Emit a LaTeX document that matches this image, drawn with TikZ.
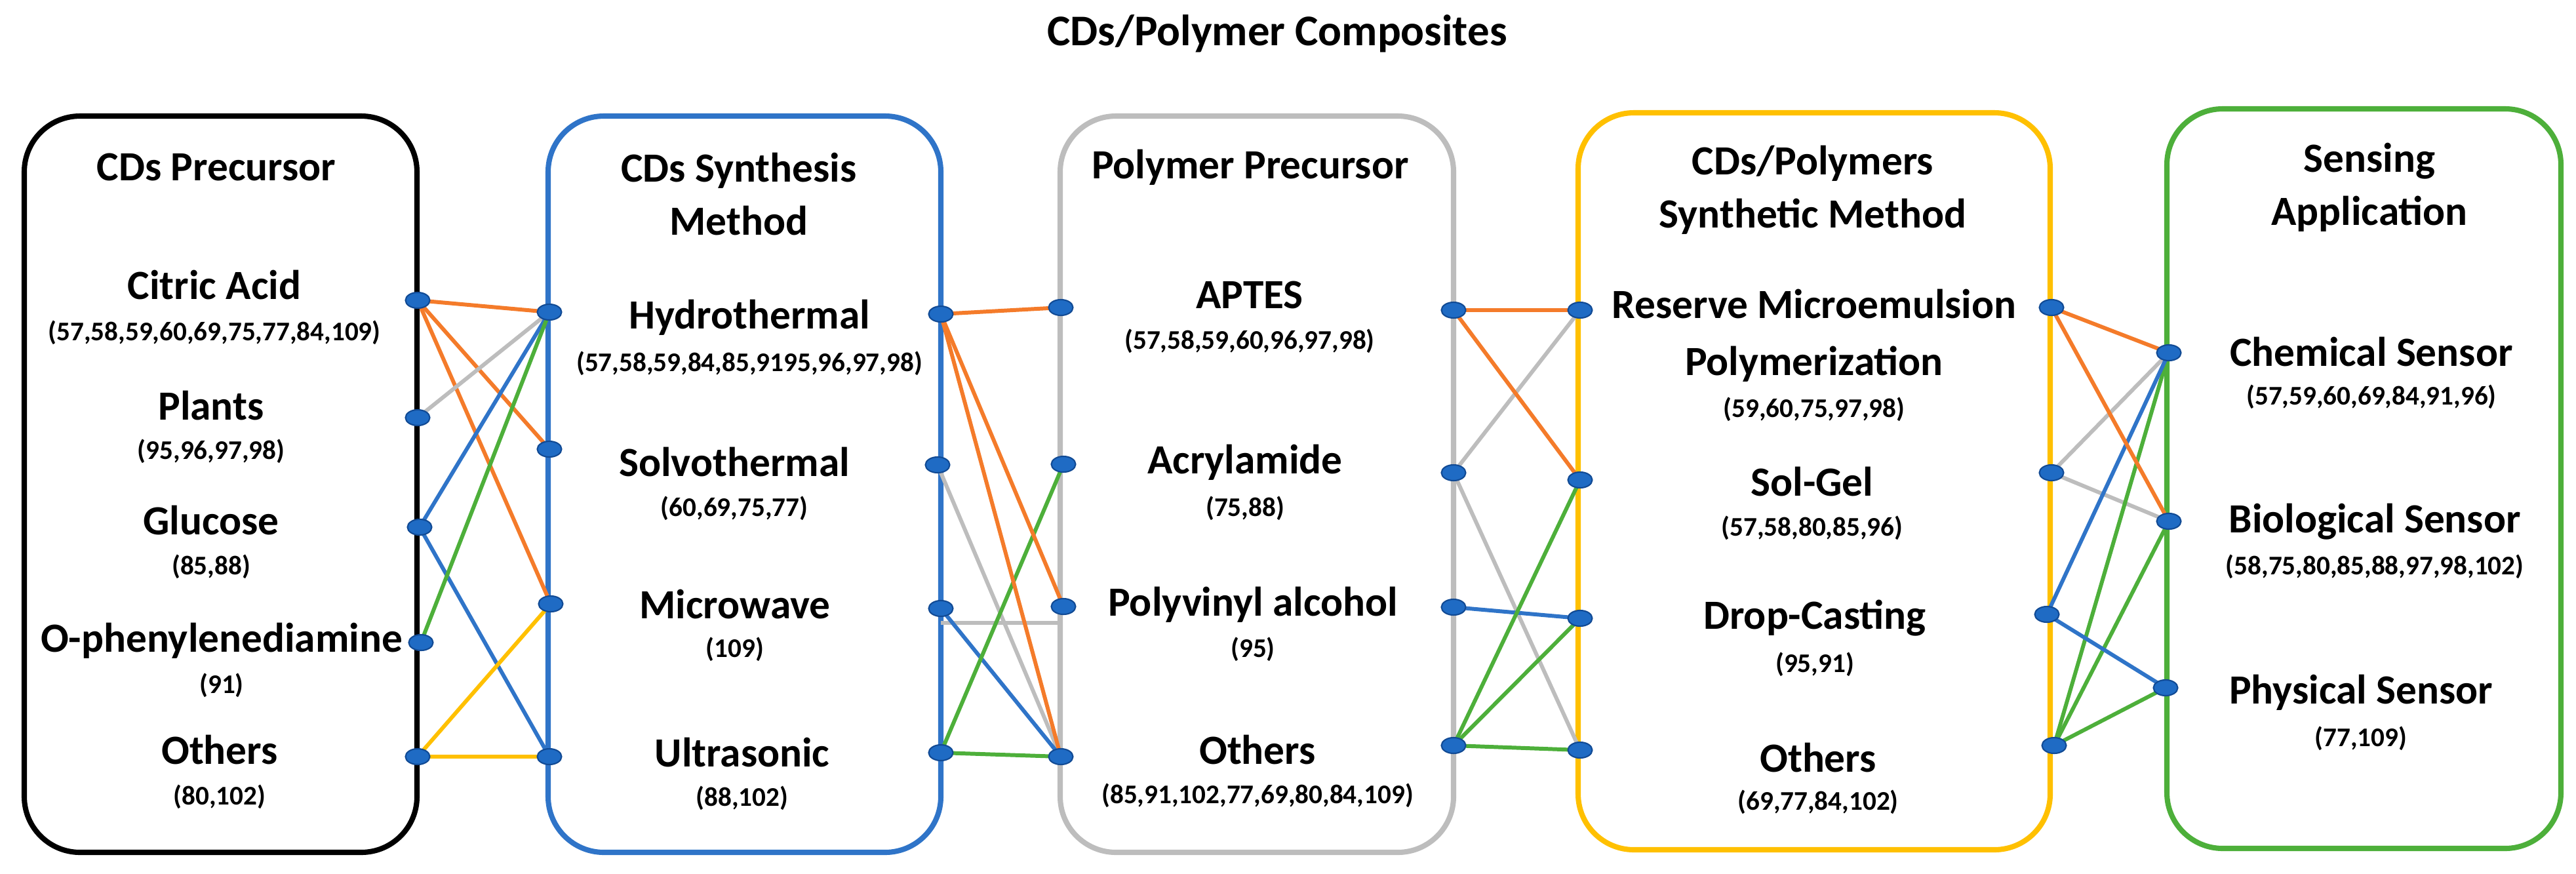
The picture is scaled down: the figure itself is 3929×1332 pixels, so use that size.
\documentclass[tikz,border=0pt]{standalone}
\usepackage{fontspec}
\setmainfont{Carlito}
\usetikzlibrary{shapes.geometric}
\definecolor{cor}{HTML}{F47B2A}
\definecolor{cgr}{HTML}{BDBDBD}
\definecolor{cbl}{HTML}{2F74C8}
\definecolor{cgn}{HTML}{4DAF3A}
\definecolor{cye}{HTML}{FFC000}
\definecolor{dotf}{HTML}{1F6BC4}
\definecolor{dotd}{HTML}{114A94}
\tikzset{
 box/.style={line width=2.3pt, rounded corners=0.85cm},
 dot/.style={ellipse, fill=dotf, draw=dotd, line width=0.6pt, minimum width=0.37cm, minimum height=0.24cm, inner sep=0pt},
 ln/.style={line width=1.7pt},
 hd/.style={font=\fontsize{18}{23}\selectfont\bfseries, align=center},
 it/.style={font=\fontsize{18}{24.7}\selectfont\bfseries, align=center},
 rf/.style={font=\fontsize{11.7}{14}\selectfont\bfseries},
}
\begin{document}
\begin{tikzpicture}[x=0.01cm,y=-0.01cm]
\useasboundingbox (0,0) rectangle (3929,1332);
\node[font=\fontsize{19}{22}\selectfont\bfseries] (title) at (1948,51) {CDs/Polymer Composites};
% boxes
\draw[box,black] (37,177) rectangle (636,1300);
\draw[box,cbl] (836,177) rectangle (1435,1300);
\draw[box,cgr] (1617,177) rectangle (2217,1300);
\draw[box,cye] (2407,172) rectangle (3127,1296);
\draw[box,cgn] (3305,166) rectangle (3906,1294);
% headers
\node[hd] (h1) at (330,255) {CDs Precursor};
\node[hd] (h2) at (1127,296) {CDs Synthesis\\Method};
\node[hd] (h3) at (1907,255) {Polymer Precursor};
\node[hd] (h4) at (2765,290) {CDs/Polymers\\Synthetic Method};
\node[hd] (h5) at (3614,286) {Sensing\\Application};
% box1 items
\node[it] (t11) at (327,435) {Citric Acid}; \node[rf] (r11) at (327,507) {(57,58,59,60,69,75,77,84,109)};
\node[it] (t12) at (322,619) {Plants}; \node[rf] (r12) at (322,688) {(95,96,97,98)};
\node[it] (t13) at (322,794) {Glucose}; \node[rf] (r13) at (322,864) {(85,88)};
\node[it] (t14) at (338,977) {O-phenylenediamine}; \node[rf] (r14) at (338,1045) {(91)};
\node[it] (t15) at (335,1143) {Others}; \node[rf] (r15) at (335,1215) {(80,102)};
% box2
\node[it] (t21) at (1143,484) {Hydrothermal}; \node[rf] (r21) at (1143,554) {(57,58,59,84,85,9195,96,97,98)};
\node[it] (t22) at (1120,705) {Solvothermal}; \node[rf] (r22) at (1120,775) {(60,69,75,77)};
\node[it] (t23) at (1121,922) {Microwave}; \node[rf] (r23) at (1121,990) {(109)};
\node[it] (t24) at (1132,1147) {Ultrasonic}; \node[rf] (r24) at (1132,1217) {(88,102)};
% box3
\node[it] (t31) at (1906,450) {APTES}; \node[rf] (r31) at (1906,520) {(57,58,59,60,96,97,98)};
\node[it] (t32) at (1899,705) {Acrylamide}; \node[rf] (r32) at (1899,775) {(75,88)};
\node[it] (t33) at (1911,922) {Polyvinyl alcohol}; \node[rf] (r33) at (1911,990) {(95)};
\node[it] (t34) at (1918,1143) {Others}; \node[rf] (r34) at (1918,1213) {(85,91,102,77,69,80,84,109)};
% box4
\node[it] (t41) at (2767,512) {Reserve Microemulsion\\Polymerization}; \node[rf] (r41) at (2767,624) {(59,60,75,97,98)};
\node[it] (t42) at (2764,735) {Sol-Gel}; \node[rf] (r42) at (2764,805) {(57,58,80,85,96)};
\node[it] (t43) at (2768,943) {Drop-Casting}; \node[rf] (r43) at (2768,1013) {(95,91)};
\node[it] (t44) at (2773,1155) {Others}; \node[rf] (r44) at (2773,1223) {(69,77,84,102)};
% box5
\node[it] (t51) at (3617,537) {Chemical Sensor}; \node[rf] (r51) at (3617,605) {(57,59,60,69,84,91,96)};
\node[it] (t52) at (3622,796) {Biological Sensor}; \node[rf] (r52) at (3622,864) {(58,75,80,85,88,97,98,102)};
\node[it] (t53) at (3601,1056) {Physical Sensor}; \node[rf] (r53) at (3601,1126) {(77,109)};
% dot coordinates
\coordinate (A1) at (637,458); \coordinate (A2) at (637,637); \coordinate (A3) at (640,804); \coordinate (A4) at (642,980); \coordinate (A5) at (637,1154);
\coordinate (B1) at (838,476); \coordinate (B2) at (838,685); \coordinate (B3) at (840,921); \coordinate (B4) at (838,1154);
\coordinate (C1) at (1435,479); \coordinate (C2) at (1430,709); \coordinate (C3) at (1435,928); \coordinate (C4) at (1435,1148);
\coordinate (D1) at (1618,469); \coordinate (D2) at (1622,708); \coordinate (D3) at (1622,925); \coordinate (D4) at (1618,1154);
\coordinate (E1) at (2217,473); \coordinate (E2) at (2217,721); \coordinate (E3) at (2217,926); \coordinate (E4) at (2217,1137);
\coordinate (F1) at (2410,473); \coordinate (F2) at (2410,732); \coordinate (F3) at (2410,943); \coordinate (F4) at (2410,1144);
\coordinate (G1) at (3129,469); \coordinate (G2) at (3129,721); \coordinate (G3) at (3122,937); \coordinate (G4) at (3133,1137);
\coordinate (H1) at (3308,538); \coordinate (H2) at (3308,795); \coordinate (H3) at (3303,1049);
\coordinate (C3g) at (1435,950); \coordinate (D3g) at (1617,950);
% connectors 1-2
\draw[ln,cor] (A1) -- (B1); \draw[ln,cor] (A1) -- (B2); \draw[ln,cor] (A1) -- (B3);
\draw[ln,cgr] (A2) -- (B1);
\draw[ln,cbl] (A3) -- (B1); \draw[ln,cbl] (A3) -- (B4);
\draw[ln,cgn] (A4) -- (B1);
\draw[ln,cye] (A5) -- (B3); \draw[ln,cye] (A5) -- (B4);
% 2-3
\draw[ln,cgr] (C2) -- (D4); \draw[ln,cgr] (C3g) -- (D3g);
\draw[ln,cbl] (C3) -- (D4);
\draw[ln,cgn] (C4) -- (D2); \draw[ln,cgn] (C4) -- (D4);
\draw[ln,cor] (C1) -- (D1); \draw[ln,cor] (C1) -- (D3); \draw[ln,cor] (C1) -- (D4);
% 3-4
\draw[ln,cgr] (E2) -- (F1); \draw[ln,cgr] (E2) -- (F4);
\draw[ln,cor] (E1) -- (F1); \draw[ln,cor] (E1) -- (F2);
\draw[ln,cbl] (E3) -- (F3);
\draw[ln,cgn] (E4) -- (F2); \draw[ln,cgn] (E4) -- (F3); \draw[ln,cgn] (E4) -- (F4);
% 4-5
\draw[ln,cgr] (G2) -- (H1); \draw[ln,cgr] (G2) -- (H2);
\draw[ln,cgn] (G4) -- (H1); \draw[ln,cgn] (G4) -- (H2); \draw[ln,cgn] (G4) -- (H3);
\draw[ln,cbl] (G3) -- (H1); \draw[ln,cbl] (G3) -- (H3);
\draw[ln,cor] (G1) -- (H1); \draw[ln,cor] (G1) -- (H2);
% dots
\foreach \p in {A1,A2,A3,A4,A5,B1,B2,B3,B4,C1,C2,C3,C4,D1,D2,D3,D4,E1,E2,E3,E4,F1,F2,F3,F4,G1,G2,G3,G4,H1,H2,H3}
  \node[dot] (d\p) at (\p) {};
\end{tikzpicture}
\end{document}
